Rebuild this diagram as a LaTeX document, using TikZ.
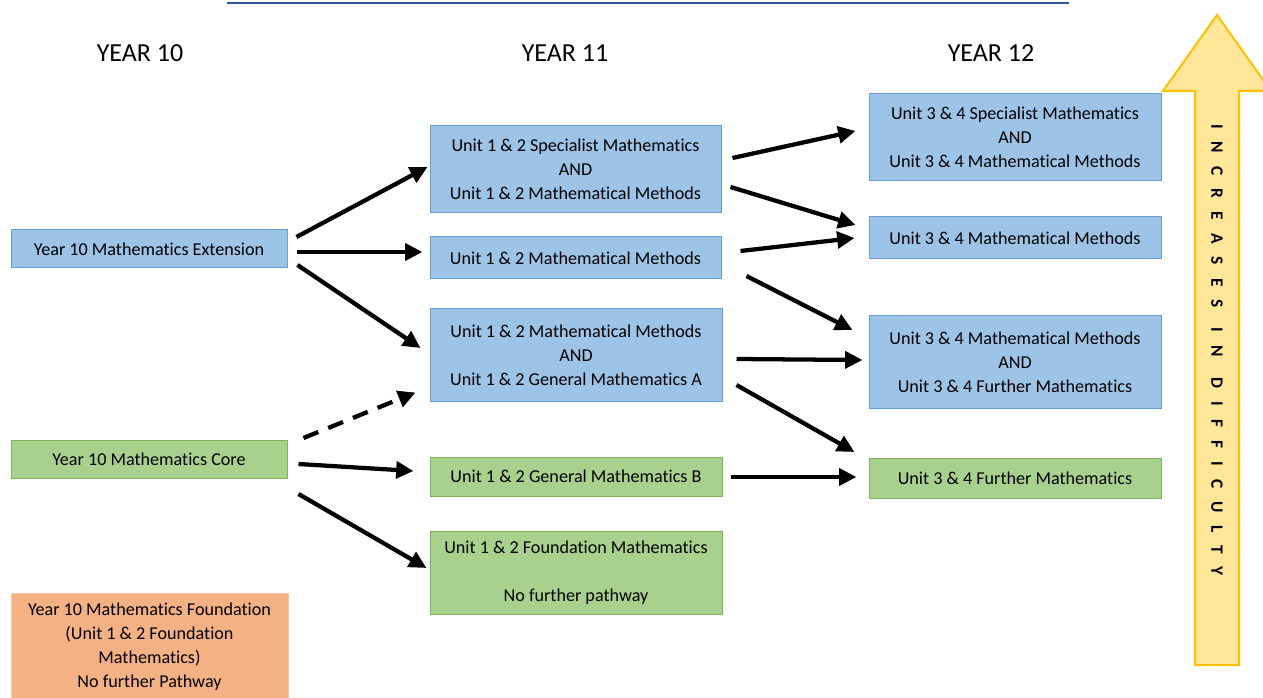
\documentclass[tikz,border=0pt]{standalone}
\usepackage{fontspec}
\setmainfont{Carlito}[Ligatures={NoCommon}]
\newfontfamily\spacedfont[LetterSpace=76,Ligatures={NoCommon}]{Carlito}
\usetikzlibrary{calc,arrows.meta}
\definecolor{myblue}{RGB}{157,195,230}
\definecolor{myblueline}{RGB}{100,160,215}
\definecolor{mygreen}{RGB}{169,209,142}
\definecolor{mygreenline}{RGB}{125,180,90}
\definecolor{myorange}{RGB}{244,177,131}
\definecolor{myorangeline}{RGB}{248,200,165}
\definecolor{myyellow}{RGB}{255,230,153}
\definecolor{mygold}{RGB}{255,192,0}
\definecolor{mylink}{RGB}{47,85,151}
\tikzset{
  box/.style={draw, line width=0.75pt, align=center, inner sep=0pt,
    font=\fontsize{13.6}{18}\selectfont},
  bluebox/.style={box, fill=myblue, draw=myblueline},
  greenbox/.style={box, fill=mygreen, draw=mygreenline},
  orangebox/.style={box, fill=myorange, draw=myorangeline},
  yearlabel/.style={font=\fontsize{19.5}{22}\selectfont},
  arr/.style={line width=3.2pt, -{Triangle[length=13pt,width=12.5pt]}},
  dasharr/.style={arr, dash pattern=on 12pt off 8pt}
}

\begin{document}
\begin{tikzpicture}[x=0.75pt, y=-0.75pt]
\clip (0,0) rectangle (1263,698);

% cut link line at the top
\draw[mylink, line width=1.5pt] (227,3) -- (1069,3);

% year headings
\node[yearlabel] (y10) at (140,53) {YEAR 10};
\node[yearlabel] (y11) at (565,53) {YEAR 11};
\node[yearlabel] (y12) at (991,53) {YEAR 12};

% year 10
\node[bluebox, minimum width=207pt, minimum height=28.5pt] (ext10) at (149,249) {Year 10 Mathematics Extension};
\node[greenbox, minimum width=207pt, minimum height=28.5pt] (core10) at (149,459) {Year 10 Mathematics Core};
\node[orangebox, minimum width=207.75pt, minimum height=80.25pt] (found10) at (149.5,646.5)
  {Year 10 Mathematics Foundation\\(Unit 1 \& 2 Foundation\\Mathematics)\\No further Pathway};

% year 11
\node[bluebox, minimum width=218.25pt, minimum height=65.25pt] (spec11) at (575.5,169.5)
  {Unit 1 \& 2 Specialist Mathematics\\AND\\Unit 1 \& 2 Mathematical Methods};
\node[bluebox, minimum width=218.25pt, minimum height=31.5pt] (meth11) at (575.5,258)
  {Unit 1 \& 2 Mathematical Methods};
\node[bluebox, minimum width=219pt, minimum height=69pt] (methga11) at (576,355)
  {Unit 1 \& 2 Mathematical Methods\\AND\\Unit 1 \& 2 General Mathematics A};
\node[greenbox, minimum width=219pt, minimum height=29.25pt] (genb11) at (576,476.5)
  {Unit 1 \& 2 General Mathematics B};
\node[greenbox, minimum width=219pt, minimum height=62.25pt] (found11) at (576,572.5)
  {Unit 1 \& 2 Foundation Mathematics\\[18pt]No further pathway};

% year 12
\node[bluebox, minimum width=219pt, minimum height=65.25pt] (spec12) at (1015,137.5)
  {Unit 3 \& 4 Specialist Mathematics\\AND\\Unit 3 \& 4 Mathematical Methods};
\node[bluebox, minimum width=219pt, minimum height=31.5pt] (meth12) at (1015,238)
  {Unit 3 \& 4 Mathematical Methods};
\node[bluebox, minimum width=219pt, minimum height=69pt] (methfm12) at (1015,362)
  {Unit 3 \& 4 Mathematical Methods\\AND\\Unit 3 \& 4 Further Mathematics};
\node[greenbox, minimum width=219pt, minimum height=30pt] (furth12) at (1015,478)
  {Unit 3 \& 4 Further Mathematics};

% pathways year 10 -> year 11
\draw[arr] ($(ext10.east)+(9,-12)$) -- ($(spec11.west)+(-2,-2.5)$);
\draw[arr] ($(ext10.east)+(9,3)$) -- ($(meth11.west)+(-7,-6)$);
\draw[arr] ($(ext10.east)+(10,16)$) -- ($(methga11.west)+(-9,-7)$);
\draw[dasharr] ($(core10.east)+(16,-21)$) -- ($(methga11.south west)+(-14,-9)$);
\draw[arr] ($(core10.east)+(11,5)$) -- ($(genb11.west)+(-16,-5.5)$);
\draw[arr] ($(core10.east)+(11,35)$) -- ($(found11.west)+(-3,-4.5)$);

% pathways year 11 -> year 12
\draw[arr] ($(spec11.east)+(11,-11.5)$) -- ($(spec12.west)+(-13,-6.5)$);
\draw[arr] ($(spec11.east)+(9,17.5)$) -- ($(meth12.west)+(-13,-13)$);
\draw[arr] ($(meth11.east)+(19,-7)$) -- ($(meth12.west)+(-14,0)$);
\draw[arr] ($(meth11.east)+(25,18)$) -- ($(methfm12.west)+(-16,-32)$);
\draw[arr] ($(methga11.east)+(14,4)$) -- ($(methfm12.west)+(-6,-2)$);
\draw[arr] ($(methga11.east)+(14,30)$) -- ($(furth12.west)+(-14,-26)$);
\draw[arr] ($(genb11.east)+(8,0.5)$) -- ($(furth12.west)+(-12,-1)$);

% difficulty arrow
\draw[draw=mygold, fill=myyellow, line width=1.5pt]
  (1217,15) -- (1271,91) -- (1239,91) -- (1239,665) -- (1195,665) -- (1195,91) -- (1163,91) -- cycle;
\node[rotate=-90, font=\spacedfont\bfseries\fontsize{13}{15}\selectfont] (diff) at (1217,350)
  {INCREASES\, IN\, DIFFICULTY};

\end{tikzpicture}
\end{document}
